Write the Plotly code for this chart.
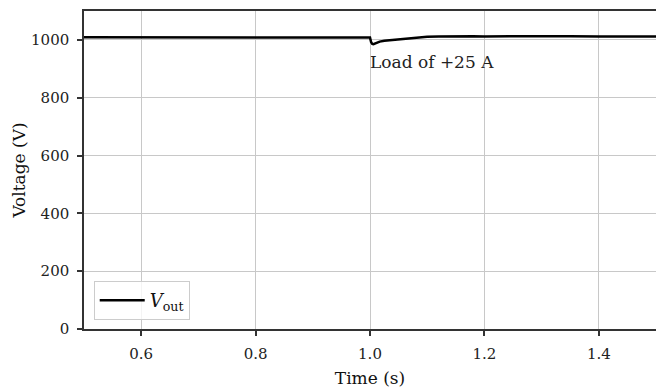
import plotly.graph_objects as go

time_s = [0.50, 0.55, 0.60, 0.65, 0.70, 0.75, 0.80, 0.85, 0.90, 0.95, 0.99, 1.000,
          1.002, 1.004, 1.006, 1.010, 1.017, 1.025, 1.035, 1.052, 1.070, 1.087,
          1.10, 1.12, 1.15, 1.18, 1.20, 1.25, 1.30, 1.35, 1.40, 1.45, 1.50]
v_out = [1009, 1009, 1008, 1009, 1009, 1008, 1009, 1009, 1008, 1009, 1009, 1008,
         992, 986, 985, 988, 994, 997, 999, 1003, 1006, 1009,
         1011, 1012, 1013, 1013, 1012, 1013, 1012, 1013, 1012, 1013, 1012]

x_ticks = [0.6, 0.8, 1.0, 1.2, 1.4]
x_tick_labels = ["0.6", "0.8", "1.0", "1.2", "1.4"]
y_ticks = [0, 200, 400, 600, 800, 1000]

annot_text = "Load of +25 A"
annot_x = 1.0
annot_y = 925

font_family = "DejaVu Serif, serif"

fig = go.Figure()
fig.add_trace(go.Scatter(x=time_s, y=v_out, mode="lines",
                         line=dict(color="black", width=2.5),
                         name="<i>V</i><sub>out</sub>"))

fig.add_annotation(x=annot_x, y=annot_y, text=annot_text, showarrow=False,
                   xanchor="left", yanchor="middle", xshift=-2,
                   font=dict(family=font_family, size=17, color="#222"))

axis_common = dict(showline=True, linecolor="#333", linewidth=1.5, mirror=True,
                   ticks="outside", ticklen=5, tickcolor="#333", tickwidth=1.5,
                   showgrid=True, gridcolor="#c8c8c8", gridwidth=1, zeroline=False,
                   automargin=False, ticklabelstandoff=5,
                   tickfont=dict(family=font_family, size=15, color="#222"))

fig.update_xaxes(range=[0.5, 1.5], tickvals=x_ticks, ticktext=x_tick_labels,
                 title=dict(text="Time (s)", font=dict(family=font_family, size=17, color="#111"),
                            standoff=12),
                 **axis_common)
fig.update_yaxes(range=[0, 1100], tickvals=y_ticks,
                 title=dict(text="Voltage (V)", font=dict(family=font_family, size=17, color="#111"),
                            standoff=1),
                 **axis_common)

fig.update_layout(
    width=656, height=388,
    margin=dict(l=84, r=0, t=11, b=59),
    plot_bgcolor="white", paper_bgcolor="white",
    showlegend=True,
    legend=dict(x=0.017, y=0.028, xanchor="left", yanchor="bottom",
                itemwidth=45,
                bgcolor="rgba(255,255,255,0.8)", bordercolor="#ccc", borderwidth=1,
                font=dict(family=font_family, size=18, color="#111")),
)

fig.write_html("out.html", config={"displayModeBar": False},
               post_script="document.body.style.margin='0';document.body.style.overflow='hidden';")
